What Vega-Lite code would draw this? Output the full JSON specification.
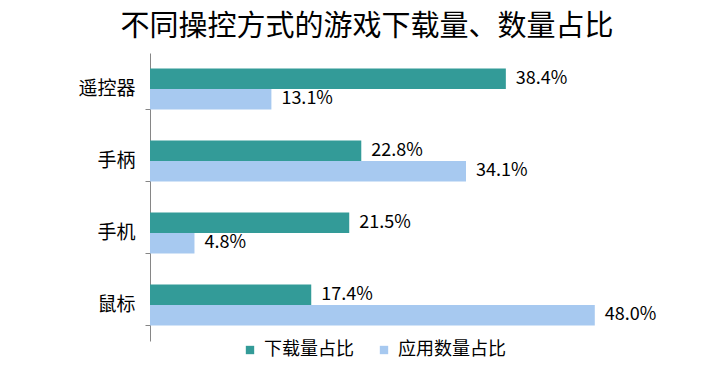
{
  "$schema": "https://vega.github.io/schema/vega-lite/v6.json",
  "width": 556,
  "height": 288,
  "autosize": "none",
  "padding": {"left": 150, "top": 53, "right": 7, "bottom": 24},
  "background": "white",
  "title": {
    "text": "不同操控方式的游戏下载量、数量占比",
    "font": "Noto Sans CJK SC",
    "fontSize": 29,
    "fontWeight": "normal",
    "color": "#000000",
    "anchor": "middle",
    "frame": "group",
    "dx": -61,
    "offset": 11
  },
  "data": {
    "values": [
      {"method": "遥控器", "series": "下载量占比", "value": 0.384},
      {"method": "遥控器", "series": "应用数量占比", "value": 0.131},
      {"method": "手柄", "series": "下载量占比", "value": 0.228},
      {"method": "手柄", "series": "应用数量占比", "value": 0.341},
      {"method": "手机", "series": "下载量占比", "value": 0.215},
      {"method": "手机", "series": "应用数量占比", "value": 0.048},
      {"method": "鼠标", "series": "下载量占比", "value": 0.174},
      {"method": "鼠标", "series": "应用数量占比", "value": 0.48}
    ]
  },
  "encoding": {
    "y": {
      "field": "method",
      "type": "nominal",
      "sort": ["遥控器", "手柄", "手机", "鼠标"],
      "scale": {"paddingInner": 0.43, "paddingOuter": 0.215},
      "axis": {
        "title": null,
        "bandPosition": 1,
        "domainColor": "#868686",
        "tickColor": "#868686",
        "tickSize": 5,
        "labelFont": "Noto Sans CJK SC",
        "labelFontSize": 19,
        "labelColor": "#000000",
        "labelPadding": 10
      }
    },
    "yOffset": {
      "field": "series",
      "type": "nominal",
      "sort": ["下载量占比", "应用数量占比"],
      "scale": {"paddingInner": 0, "paddingOuter": 0}
    },
    "x": {
      "field": "value",
      "type": "quantitative",
      "scale": {"domain": [0, 0.6], "nice": false},
      "axis": null
    }
  },
  "layer": [
    {
      "mark": {"type": "bar"},
      "encoding": {
        "color": {
          "field": "series",
          "type": "nominal",
          "sort": ["下载量占比", "应用数量占比"],
          "scale": {"domain": ["下载量占比", "应用数量占比"], "range": ["#339b98", "#a7c9f0"]},
          "legend": {
            "title": null,
            "orient": "none",
            "direction": "horizontal",
            "legendX": 91,
            "legendY": 288,
            "symbolType": "square",
            "symbolSize": 70,
            "symbolStrokeWidth": 0,
            "labelFont": "Noto Sans CJK SC",
            "labelFontSize": 18,
            "labelColor": "#000000",
            "columnPadding": 21,
            "labelOffset": 5
          }
        }
      }
    },
    {
      "mark": {
        "type": "text",
        "align": "left",
        "baseline": "middle",
        "dx": 10,
        "font": "Noto Sans CJK SC",
        "fontSize": 18,
        "color": "#000000"
      },
      "encoding": {
        "text": {"field": "value", "type": "quantitative", "format": ".1%"}
      }
    }
  ],
  "config": {"view": {"stroke": null}}
}
